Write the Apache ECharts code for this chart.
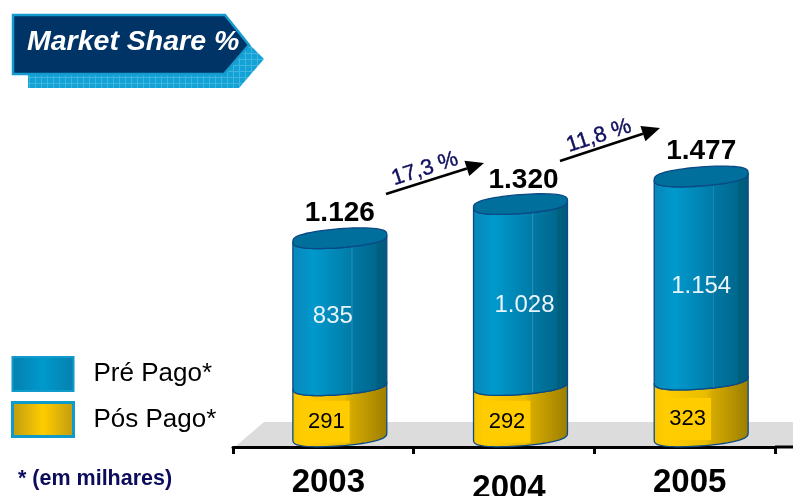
<!DOCTYPE html>
<html>
<head>
<meta charset="utf-8">
<script src="https://cdn.jsdelivr.net/npm/echarts@6/dist/echarts.min.js"></script>
<style>
  html, body { margin: 0; padding: 0; background: #fff; }
  #chart { width: 793px; height: 496px; }
</style>
</head>
<body>
<div id="chart"></div>
<script>
const years = ['2003', '2004', '2005'];
const prePago = [835, 1028, 1154];
const posPago = [291, 292, 323];
const totals = [1126, 1320, 1477];
const growthLabels = ['17,3 %', '11,8 %'];

const FONT = '"Liberation Sans", Arial, sans-serif';

// small per-year nudges, the labels in the reference are placed by hand
const totalNudge = [[0, 0], [3, 1], [0, 0]];
const preNudge = [[-7, 5], [4, 11], [0, 8]];
const posNudge = [2, 2, 2];

const fmt = (v) => String(v).replace(/\B(?=(\d{3})+$)/g, '.');

const hGradient = (stops) => ({
  type: 'linear', x: 0, y: 0, x2: 1, y2: 0,
  colorStops: stops.map(([offset, color]) => ({ offset, color })),
});

const BLUE_BODY = hGradient([
  [0, '#0A86B8'], [0.22, '#0099CC'], [0.62, '#007BA8'], [0.625, '#2A90B4'],
  [0.64, '#0077A2'], [0.88, '#00688E'], [0.89, '#00607F'], [1, '#005A7C'],
]);
const GOLD_BODY = hGradient([
  [0, '#F7C500'], [0.12, '#FFCC00'], [0.55, '#E8BC00'], [0.62, '#D4AA00'],
  [0.88, '#AE8C00'], [1, '#9C7E00'],
]);
const OUTLINE = '#0B4A84';
const X_SHIFT = 16.5;  // cylinders sit to the right of the category centre
const RY = 9.5;
const TILT = 3.5;

// point on the slightly tilted rim, a bit fuller than a true ellipse
function rim(cx, cy, rx, t) {
  const s = Math.sin(t);
  const full = Math.sign(s) * Math.pow(Math.abs(s), 0.7);
  return [cx + rx * Math.cos(t), cy + RY * full - TILT * Math.cos(t)];
}

function bodyPoints(cx, yTop, yBottom, rx) {
  const pts = [];
  for (let i = 0; i <= 32; i++) pts.push(rim(cx, yBottom, rx, Math.PI - (Math.PI * i) / 32));
  for (let i = 0; i <= 32; i++) pts.push(rim(cx, yTop, rx, (Math.PI * i) / 32));
  return pts;
}

function ellipsePoints(cx, cy, rx) {
  const pts = [];
  for (let i = 0; i < 64; i++) pts.push(rim(cx, cy, rx, (2 * Math.PI * i) / 64));
  return pts;
}

function renderPos(params, api) {
  const i = api.value(0);
  const [x, yTop] = api.coord([i, api.value(1)]);
  const yBottom = api.coord([i, 0])[1];
  const rx = api.size([1, 0])[0] * 0.26;
  const cx = x + X_SHIFT;
  return {
    type: 'group',
    children: [
      {
        type: 'polygon',
        shape: { points: bodyPoints(cx, yTop, yBottom, rx) },
        style: { fill: GOLD_BODY, stroke: OUTLINE, lineWidth: 1.3 },
      },
      {
        type: 'text',
        style: {
          text: String(api.value(1)),
          x: x + 3,
          y: (yTop + yBottom) / 2 + 9 + posNudge[i],
          align: 'center',
          verticalAlign: 'middle',
          font: '22px ' + FONT,
          fill: '#000',
          backgroundColor: '#FFCC00',
          padding: [10, 5],
        },
      },
    ],
  };
}

function renderPre(params, api) {
  const i = api.value(0);
  const [x, yBase] = api.coord([i, api.value(1)]);
  const yTop = api.coord([i, api.value(2)])[1];
  const rx = api.size([1, 0])[0] * 0.26;
  const cx = x + X_SHIFT;
  return {
    type: 'group',
    children: [
      {
        type: 'polygon',
        shape: { points: bodyPoints(cx, yTop, yBase, rx) },
        style: { fill: BLUE_BODY, stroke: OUTLINE, lineWidth: 1.3 },
      },
      {
        type: 'polygon',
        shape: { points: ellipsePoints(cx, yTop, rx) },
        style: { fill: '#006F9C', stroke: OUTLINE, lineWidth: 1.3 },
      },
      {
        type: 'text',
        style: {
          text: fmt(api.value(3)),
          x: cx + preNudge[i][0],
          y: (yTop + yBase) / 2 + preNudge[i][1],
          align: 'center',
          verticalAlign: 'middle',
          font: '24px ' + FONT,
          fill: '#E8F4FA',
        },
      },
      {
        type: 'text',
        style: {
          text: fmt(totals[i]),
          x: cx + totalNudge[i][0],
          y: yTop - 25 + totalNudge[i][1],
          align: 'center',
          verticalAlign: 'middle',
          font: 'bold 28px ' + FONT,
          fill: '#000',
        },
      },
    ],
  };
}

// the banner shadow has a fine grid on it
function gridPattern() {
  const c = document.createElement('canvas');
  c.width = 6;
  c.height = 6;
  const g = c.getContext('2d');
  g.fillStyle = '#12A2D6';
  g.fillRect(0, 0, 6, 6);
  g.fillStyle = '#3FB4DE';
  g.fillRect(5, 0, 1, 6);
  g.fillRect(0, 5, 6, 1);
  return { image: c, repeat: 'repeat' };
}

function arrow(x1, y1, x2, y2) {
  const a = Math.atan2(y2 - y1, x2 - x1);
  const len = 18, half = 8;
  const bx = x2 - len * Math.cos(a), by = y2 - len * Math.sin(a);
  return [
    {
      type: 'line',
      shape: { x1, y1, x2: bx, y2: by },
      style: { stroke: '#000', lineWidth: 2.6 },
    },
    {
      type: 'polygon',
      shape: {
        points: [
          [x2, y2],
          [bx + half * Math.sin(a), by - half * Math.cos(a)],
          [bx - half * Math.sin(a), by + half * Math.cos(a)],
        ],
      },
      style: { fill: '#000' },
    },
  ];
}

function growthText(text, x, y) {
  return {
    type: 'text',
    x, y,
    rotation: (18 * Math.PI) / 180,
    style: {
      text,
      align: 'center',
      verticalAlign: 'middle',
      font: '22px ' + FONT,
      fill: '#10105F',
      stroke: '#10105F',
      lineWidth: 0.4,
    },
  };
}

const chart = echarts.init(document.getElementById('chart'), null, { renderer: 'canvas' });

chart.setOption({
  animation: false,
  backgroundColor: '#fff',
  grid: { left: 233, width: 542, top: 172.4, height: 274.6, outerBoundsMode: 'none' },
  xAxis: {
    type: 'category',
    data: years,
    axisLine: { onZero: false, lineStyle: { color: '#000', width: 3 } },
    axisTick: { show: true, length: 7, lineStyle: { color: '#000', width: 3 } },
    axisLabel: {
      color: '#000',
      margin: 19,
      formatter: (v) => (v === '2004' ? `{low|${v}}` : `{std|${v}}`),
      rich: {
        std: { fontFamily: FONT, fontSize: 33, fontWeight: 'bold', padding: [0, 0, 0, 10] },
        low: { fontFamily: FONT, fontSize: 33, fontWeight: 'bold', padding: [6, 0, 0, 10] },
      },
    },
  },
  yAxis: { type: 'value', min: -60, max: 1500, show: false },
  legend: {
    orient: 'vertical',
    left: 11,
    top: 356,
    padding: 0,
    itemWidth: 61,
    itemHeight: 34,
    itemGap: 9,
    selectedMode: false,
    textStyle: { fontFamily: FONT, fontSize: 26, lineHeight: 34, color: '#000', padding: [0, 0, 0, 15] },
    data: [
      {
        name: 'Pré Pago*',
        icon: 'rect',
        itemStyle: {
          color: hGradient([[0, '#0580AE'], [0.5, '#0099CC'], [1, '#0580AE']]),
          borderColor: '#119ACC',
          borderWidth: 2,
        },
      },
      {
        name: 'Pós Pago*',
        icon: 'rect',
        itemStyle: {
          color: hGradient([[0, '#BE9A10'], [0.5, '#FFCC00'], [1, '#BE9A10']]),
          borderColor: '#0F9ACC',
          borderWidth: 3,
        },
      },
    ],
  },
  series: [
    {
      name: 'Pós Pago*',
      type: 'custom',
      renderItem: renderPos,
      encode: { x: 0, y: 1 },
      z: 3,
      data: posPago.map((v, i) => [i, v]),
    },
    {
      name: 'Pré Pago*',
      type: 'custom',
      renderItem: renderPre,
      encode: { x: 0, y: 2 },
      z: 4,
      data: prePago.map((v, i) => [i, posPago[i], posPago[i] + v, v]),
    },
  ],
  graphic: [
    // floor
    {
      type: 'polygon',
      z: -1,
      shape: { points: [[264, 422], [793, 422], [793, 446], [236, 446]] },
      style: { fill: '#DCDCDC' },
    },
    // axis line runs on past the last tick
    {
      type: 'line',
      shape: { x1: 775, y1: 447, x2: 793, y2: 447 },
      style: { stroke: '#000', lineWidth: 3 },
    },
    // banner
    {
      type: 'polygon',
      shape: { points: [[28, 60], [250, 45], [264, 59], [239, 88], [28, 88]] },
      style: { fill: gridPattern() },
    },
    {
      type: 'polygon',
      shape: { points: [[13, 15], [225, 15], [249, 45], [224, 74], [13, 74]] },
      style: { fill: '#003366', stroke: '#149CD0', lineWidth: 2.5 },
    },
    {
      type: 'text',
      x: 27,
      y: 42,
      style: {
        text: 'Market Share %',
        verticalAlign: 'middle',
        font: 'italic bold 28.5px ' + FONT,
        fill: '#fff',
      },
    },
    {
      type: 'text',
      x: 18,
      y: 479,
      style: {
        text: '* (em milhares)',
        verticalAlign: 'middle',
        font: 'bold 21.5px ' + FONT,
        fill: '#0C0C5C',
      },
    },
    ...arrow(386, 194, 484, 163),
    ...arrow(560, 161, 660, 128),
    growthText(growthLabels[0], 425, 169),
    growthText(growthLabels[1], 599, 136),
  ],
});
</script>
</body>
</html>
